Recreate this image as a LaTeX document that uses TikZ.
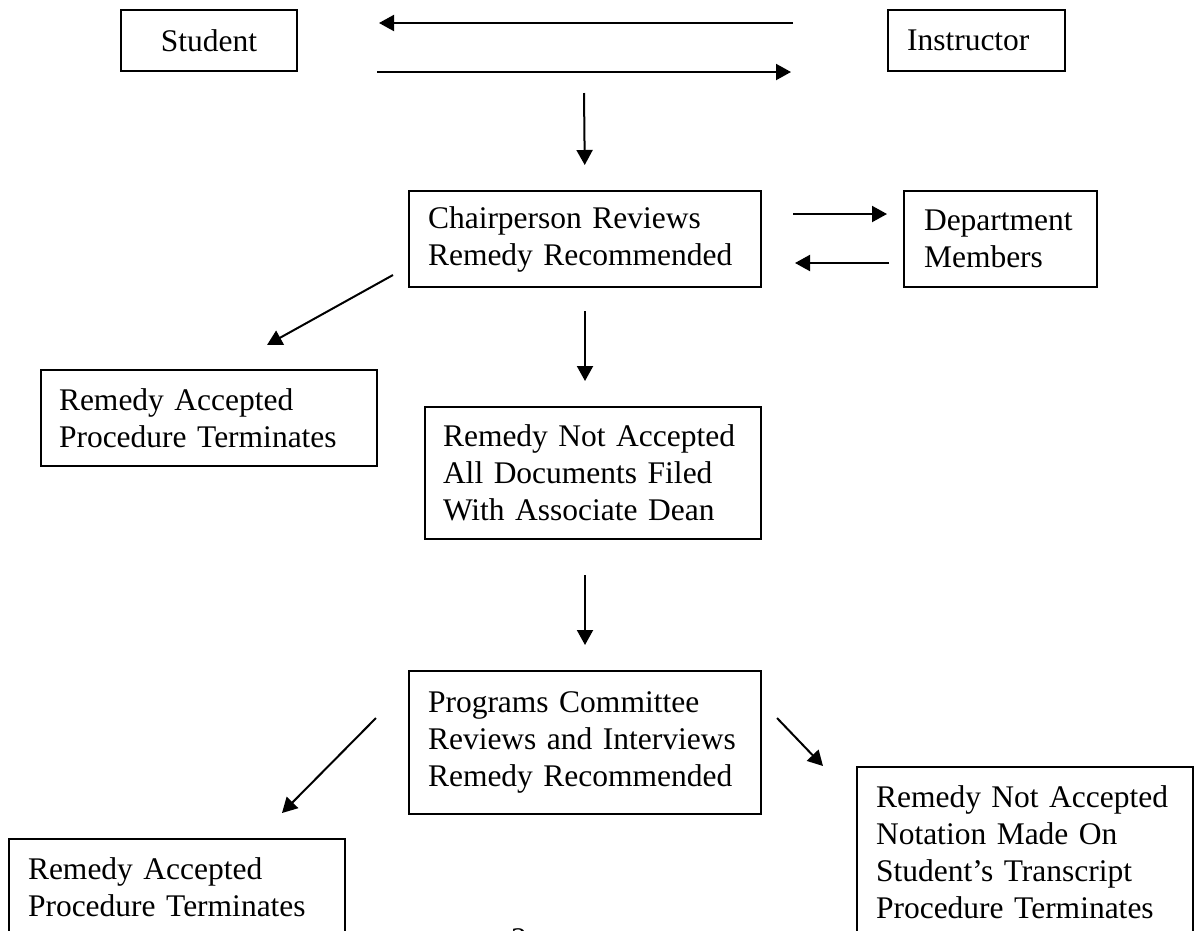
\documentclass[tikz,border=0pt]{standalone}
\usepackage{fontspec}
\setmainfont{Liberation Serif}
\usetikzlibrary{arrows.meta}
\tikzset{every node/.style={draw = black, line width = 2pt, anchor = north west, align = left, inner ysep = 0pt, font = \fontsize{31.5}{37}\selectfont}}
\tikzset{every edge/.style={draw = black, line width = 2pt, -{Triangle[length=15pt,width=16pt]}}}

\begin{document}
\begin{tikzpicture}[x = 1pt, y = -1pt]
  \useasboundingbox (0,0) rectangle (1194,930);

  \node (student) [text width = 176pt, inner xsep = 0pt, minimum height = 61pt, align = center] at (120,9) {Student};
  \node (instructor) [text width = 139pt, inner xsep = 19pt, minimum height = 61pt] at (887,9) {Instructor};
  \node (chair) [text width = 314pt, inner xsep = 19pt, minimum height = 96pt] at (408,190) {Chairperson Reviews\\Remedy Recommended};
  \node (dept) [text width = 153pt, inner xsep = 20pt, minimum height = 96pt] at (903,190) {Department\\Members};
  \node (acc1) [text width = 300pt, inner xsep = 18pt, minimum height = 96pt] at (40,369) {Remedy Accepted\\Procedure Terminates};
  \node (notacc) [text width = 300pt, inner xsep = 18pt, minimum height = 132pt] at (424,406) {Remedy Not Accepted\\All Documents Filed\\With Associate Dean};
  \node (progs) [text width = 314pt, inner xsep = 19pt, minimum height = 143pt] at (408,670) {Programs Committee\\Reviews and Interviews\\Remedy Recommended};
  \node (acc2) [text width = 298pt, inner xsep = 19pt, minimum height = 96pt] at (8,838) {Remedy Accepted\\Procedure Terminates};
  \node (notacc2) [text width = 298pt, inner xsep = 19pt, minimum height = 170pt] at (856,766) {Remedy Not Accepted\\Notation Made On\\Student’s Transcript\\Procedure Terminates};
  \node (pagenum) [draw = none, anchor = north, inner sep = 0pt] at (519,928) {2};
  \coordinate (talk) at (584,93);

  \path ([yshift=17.5pt]instructor.west) edge[shorten <= 94pt, shorten >= 81pt] ([yshift=17.5pt]student.east);
  \path (student.south east) edge[shorten <= 79pt, shorten >= 96pt] (instructor.south west);

  \path (talk) edge[shorten >= 25pt] (chair.north);

  \path ([yshift=25pt]chair.east) edge[shorten <= 31pt, shorten >= 16pt] ([yshift=25pt]dept.west);
  \path ([yshift=-24pt]dept.west) edge[shorten <= 14pt, shorten >= 33pt] ([yshift=-24pt]chair.east);

  \path ([shift={(-15pt,13pt)}]chair.south west) edge ([shift={(58pt,24pt)}]acc1.north);
  \path (chair.south) edge[shorten <= 23pt, shorten >= 25pt] (chair.south |- notacc.north);

  \path (progs.north |- notacc.south) edge[shorten <= 35pt, shorten >= 25pt] (progs.north);

  \path ([shift={(-32pt,-48pt)}]progs.north west) edge ([shift={(105pt,25pt)}]acc2.north);
  \path ([shift={(15pt,-48pt)}]progs.north east) edge ([xshift=-33pt]notacc2.north west);
\end{tikzpicture}
\end{document}
